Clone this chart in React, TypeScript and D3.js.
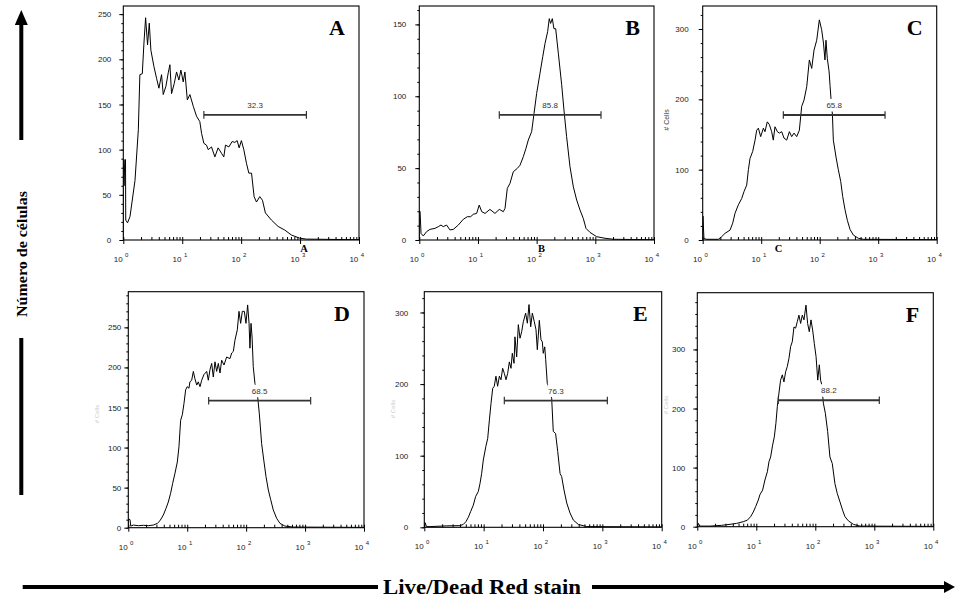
import React, { useEffect, useRef } from 'react';
import * as d3 from 'd3';

type Pt = [number, number];

// histograms: [fluorescence, cell count]
const histA: Pt[] = [
  [1, 0], [1, 89], [1.03, 60], [1.06, 89], [1.09, 89], [1.1, 22], [1.18, 19], [1.3, 26], [1.58, 66],
  [1.8, 122], [1.91, 183], [2.1, 184], [2.24, 218], [2.39, 246], [2.58, 216], [2.76, 240], [2.94, 210],
  [3.31, 192], [3.67, 179], [4.02, 168], [4.46, 183], [4.76, 161], [5.28, 170], [5.79, 185], [6.18, 194],
  [6.59, 162], [7.31, 173], [8.01, 186], [8.78, 177], [9.49, 188], [10.4, 175], [11.1, 186], [12.2, 155],
  [13.5, 161], [15.4, 148], [17.5, 137], [19.9, 131], [21.3, 118], [23.3, 107], [25.8, 105], [27.6, 100],
  [31.4, 103], [35.8, 92], [40.7, 102], [46.4, 96], [50.8, 92], [54.2, 105], [61.8, 103], [70.3, 109],
  [78.1, 108], [85.5, 110], [92.5, 102], [101, 110], [111, 100], [123, 85], [135, 74], [150, 74],
  [166, 48], [182, 42], [207, 48], [230, 44], [258, 30], [327, 22], [424, 15], [550, 11], [713, 5.5],
  [986, 2], [1280, 1], [10000, 0.3],
];

const histB: Pt[] = [
  [1, 0], [1, 20], [1.03, 20], [1.07, 4.6], [1.17, 2.8], [1.33, 5.8], [1.52, 7.4], [1.85, 8.1], [2.11, 9.3],
  [2.34, 10.4], [2.56, 9.3], [2.92, 10.4], [3.33, 7], [3.8, 7.4], [4.62, 10.4], [5.62, 14.4], [6.58, 16.2],
  [7.5, 16.2], [8.32, 17.9], [9.49, 18.5], [10.5, 24.3], [11.6, 19.7], [13.2, 18.5], [16, 21.3], [19.5, 18.5],
  [23.1, 21.3], [27, 19.7], [28.9, 22], [31.6, 35.9], [35.1, 39.4], [40, 47.5], [46.8, 49.8], [52, 52],
  [59.3, 58], [65.8, 63.8], [72.1, 69.6], [82.2, 75.4], [90.2, 88], [100, 102], [114, 116], [127, 127.5],
  [139, 136.8], [154, 145], [164, 154], [173, 150.7], [185, 154], [197, 147], [211, 147], [234, 130],
  [267, 108], [292, 90.4], [324, 71.9], [370, 51], [422, 37], [481, 27.8], [548, 20.9], [624, 15],
  [693, 8.1], [811, 5.3], [1054, 2.3], [1462, 1.2], [2027, 0.5], [10000, 0.2],
];

const histC: Pt[] = [
  [1, 0], [1.01, 34], [1.05, 2], [1.17, 1], [1.85, 1], [2.11, 4.7], [2.41, 9.5], [2.93, 14], [3.26, 24],
  [3.57, 38], [4.07, 50], [4.64, 59], [5.09, 69], [5.65, 78], [6.04, 100], [6.44, 116], [7.16, 126],
  [7.85, 142], [8.37, 156], [8.95, 159], [9.8, 147], [10.9, 159], [11.6, 154], [12.7, 168], [13.8, 164],
  [15.1, 154], [16.1, 142], [17.2, 161], [18.9, 154], [20.4, 152], [22.4, 154], [24.5, 145], [27.3, 142],
  [30.3, 154], [33.2, 147], [36.4, 152], [40.4, 147], [44.9, 156], [49.2, 190], [54, 199], [60, 218],
  [66.5, 256], [73, 244], [80, 270], [88.9, 284], [98.6, 313], [108, 299], [116, 280], [123, 256],
  [128, 284], [135, 258], [145, 239], [150, 220], [156, 201], [165, 178], [171, 142], [190, 118],
  [208, 100], [229, 83], [247, 62], [271, 43], [297, 28], [330, 15], [376, 7], [458, 2.4], [558, 1],
  [10000, 0.5],
];

const histD: Pt[] = [
  [1, 0], [1.01, 11], [1.07, 10], [1.1, 2], [1.22, 3.3], [1.48, 2.5], [1.8, 3], [2.18, 2.5], [2.66, 3.3],
  [3.11, 5.4], [3.45, 8.7], [3.93, 15.8], [4.36, 24], [4.77, 32], [5.23, 43], [5.65, 55], [6.2, 68],
  [6.79, 82], [7.24, 101], [7.73, 134], [8.26, 141], [8.81, 155], [9.4, 172], [10, 176], [10.7, 174],
  [11.1, 182], [11.9, 184], [12.7, 195], [13.5, 186], [14.5, 178], [15.4, 182], [16.5, 176], [17.6, 184],
  [19.2, 191], [21.4, 195], [22.8, 184], [24.3, 197], [26, 205], [27.7, 188], [29.6, 207], [31.6, 195],
  [33.7, 205], [36, 193], [38.4, 209], [42.1, 203], [46.7, 213], [53.2, 211], [56.8, 218], [60.6, 220],
  [64.6, 234], [70.8, 247], [75.6, 270], [80.7, 255], [86.1, 270], [93.1, 270], [99.3, 255], [106, 278],
  [112, 255], [116, 224], [121, 255], [126, 238], [132, 201], [141, 180], [157, 163], [167, 143],
  [183, 105], [201, 82], [217, 64], [238, 47], [261, 35], [289, 22], [330, 11.6], [375, 5.4], [456, 2],
  [632, 0.8], [10000, 0.4],
];

const histE: Pt[] = [
  [1, 0], [1.03, 6.5], [1.09, 1], [1.25, 1], [2.38, 2], [3.99, 2.3], [4.54, 4], [5.04, 8], [5.52, 14],
  [6.04, 22], [6.7, 31], [7.33, 43], [8.13, 50], [8.67, 61], [9.25, 75], [9.87, 94], [10.9, 113],
  [11.7, 124], [12.5, 150], [13.3, 173], [14.2, 194], [15.1, 197], [16.1, 211], [17.2, 197], [18.4, 211],
  [19.6, 206], [20.9, 222], [22.3, 215], [23.8, 206], [25.4, 215], [27.1, 231], [28.9, 222], [30.4, 243],
  [32.5, 229], [33.7, 266], [36, 238], [38.4, 283], [41, 264], [43.7, 273], [46.6, 287], [51, 299],
  [54.5, 285], [58.1, 311], [62, 280], [66.1, 299], [71.4, 287], [76.2, 276], [80.2, 248], [86.7, 289],
  [92.5, 262], [97.4, 259], [101, 243], [107, 252], [111, 234], [118, 201], [140, 180], [149, 134],
  [163, 131], [177, 106], [194, 75], [206, 71], [226, 52], [251, 34], [285, 20], [325, 10], [394, 4],
  [545, 1], [10000, 0.5],
];

const histF: Pt[] = [
  [1, 0], [1.04, 5.6], [1.11, 1], [1.64, 1], [2.58, 2.3], [3.58, 4], [4.64, 5.6], [6.02, 8.5], [7.04, 11],
  [8.02, 17], [8.9, 25], [9.75, 34], [10.8, 45], [11.5, 54], [12.8, 62], [14, 79], [15.4, 93], [16.4, 110],
  [17.5, 118], [18.9, 138], [20.2, 152], [21.5, 175], [22.7, 203], [24.2, 226], [25.8, 248], [27.6, 257],
  [29.4, 245], [31.4, 262], [33.5, 271], [35.8, 285], [38.2, 305], [40.7, 313], [43.5, 338], [46.4, 336],
  [49.5, 347], [52.8, 358], [56.4, 344], [60.2, 358], [64.3, 350], [69.5, 375], [74.1, 344], [79.1, 330],
  [84.5, 350], [90.1, 333], [96.2, 310], [103, 288], [110, 248], [117, 274], [123, 248], [128, 241],
  [137, 209], [148, 192], [162, 161], [177, 118], [194, 107], [215, 73], [236, 56], [262, 42], [290, 28],
  [318, 17], [363, 10], [441, 4], [571, 1], [10000, 0.5],
];

const histograms = [histA, histB, histC, histD, histE, histF];
const panelLetters = ['A', 'B', 'C', 'D', 'E', 'F'];
const gatePercent = ['32.3', '85.8', '65.8', '68.5', '76.3', '88.2'];
const gateStart = [23.3, 23.1, 23.9, 23.1, 22.3, 23.6];
const gateEnd = [1280, 1250, 1309, 1244, 1214, 1216];
const gateCount = [138.5, 87, 177.7, 158.5, 177, 214];
const yAxisMax = [259, 162.8, 332.7, 294.5, 329, 396];
const yTickValues = [
  [0, 50, 100, 150, 200, 250],
  [0, 50, 100, 150],
  [0, 100, 200, 300],
  [0, 50, 100, 150, 200, 250],
  [0, 100, 200, 300],
  [0, 100, 200, 300],
];
const yMinorStep = [10, 10, 20, 10, 20, 20];
const xMajorTicks = [1, 10, 100, 1000, 10000];
const xExponents = ['0', '1', '2', '3', '4'];
const xMinorFactors = [2, 3, 4, 5, 6, 7, 8, 9];
const yTitle = 'Número de células';
const xTitle = 'Live/Dead Red stain';
const countLabel = '# Cells';
const underLetters = ['A', 'B', 'C'];

// layout (page pixels)
const W = 955;
const H = 603;
const frames = [
  { x: 123.3, y: 6, w: 235.7, h: 234 },
  { x: 419.3, y: 6, w: 234.7, h: 234 },
  { x: 702.7, y: 6, w: 234, h: 234 },
  { x: 128.3, y: 291.7, w: 235.7, h: 236 },
  { x: 424.3, y: 291.7, w: 237.4, h: 235.6 },
  { x: 697.3, y: 292.7, w: 236, h: 234 },
];
const yLabelGap = [12, 13, 14, 7, 16, 12];
const underLetterX = [304, 541.5, 778.5];
const cellsLabelPos = [
  { x: 667, y: 120, faint: false },
  { x: 96.7, y: 414, faint: true },
  { x: 392.7, y: 409, faint: true },
  { x: 665.5, y: 405, faint: true },
];

const SANS = 'Liberation Sans, Arial, sans-serif';
const SERIF = 'Liberation Serif, Times New Roman, serif';

export default function App() {
  const svgRef = useRef<SVGSVGElement>(null);

  useEffect(() => {
    const svg = d3.select(svgRef.current);
    svg.selectAll('*').remove();
    svg.append('rect').attr('width', W).attr('height', H).attr('fill', '#fff');

    const xMinorTicks = xMajorTicks.slice(0, 4).flatMap(d => xMinorFactors.map(m => m * d));

    histograms.forEach((data, i) => {
      const f = frames[i];
      const x = d3.scaleLog().domain([1, 10000]).range([f.x, f.x + f.w]);
      const y = d3.scaleLinear().domain([0, yAxisMax[i]]).range([f.y + f.h, f.y]);
      const g = svg.append('g');

      g.append('clipPath').attr('id', `clip${i}`).append('rect')
        .attr('x', f.x).attr('y', f.y).attr('width', f.w).attr('height', f.h);

      // histogram
      const line = d3.line<Pt>().x(d => x(d[0])).y(d => y(d[1]));
      g.append('path')
        .datum(data)
        .attr('clip-path', `url(#clip${i})`)
        .attr('fill', 'none')
        .attr('stroke', '#000')
        .attr('stroke-width', 1)
        .attr('stroke-linejoin', 'round')
        .attr('d', line);

      // marker gate, its label sits on a white box like the cytometer output
      const gy = y(gateCount[i]);
      const gx0 = x(gateStart[i]);
      const gx1 = x(gateEnd[i]);
      const tx = (gx0 + gx1) / 2;
      g.append('rect')
        .attr('x', tx - 8.5).attr('y', gy - 16).attr('width', 17).attr('height', 12.5)
        .attr('fill', '#fff');
      g.append('text')
        .attr('x', tx).attr('y', gy - 7)
        .attr('text-anchor', 'middle')
        .attr('font-family', SANS).attr('font-size', 8).attr('fill', '#333')
        .text(gatePercent[i]);
      g.append('line')
        .attr('x1', gx0).attr('x2', gx1).attr('y1', gy).attr('y2', gy)
        .attr('stroke', '#333').attr('stroke-width', 1.8);
      [gx0, gx1].forEach(cx => {
        g.append('line')
          .attr('x1', cx).attr('x2', cx).attr('y1', gy - 3.8).attr('y2', gy + 3.8)
          .attr('stroke', '#333').attr('stroke-width', 1.2);
      });

      // frame
      g.append('rect')
        .attr('x', f.x).attr('y', f.y).attr('width', f.w).attr('height', f.h)
        .attr('fill', 'none').attr('stroke', '#000').attr('stroke-width', 1.1);

      // y axis
      const yAxis = g.append('g')
        .attr('transform', `translate(${f.x},0)`)
        .call(d3.axisLeft(y).tickValues(yTickValues[i]).tickSize(4).tickPadding(yLabelGap[i] - 4));
      yAxis.select('.domain').remove();
      yAxis.attr('font-family', SANS).attr('font-size', 8);
      yAxis.selectAll('text').attr('fill', '#222');
      const yMinor = g.append('g')
        .attr('transform', `translate(${f.x},0)`)
        .call(d3.axisLeft(y).tickValues(d3.range(0, yAxisMax[i], yMinorStep[i])).tickSize(2).tickFormat(() => ''));
      yMinor.select('.domain').remove();

      // x axis: decades point down, minor log ticks point into the plot
      const xBase = f.y + f.h;
      const xMaj = g.append('g')
        .attr('transform', `translate(0,${xBase})`)
        .call(d3.axisBottom(x).tickValues(xMajorTicks).tickSize(4).tickFormat(() => ''));
      xMaj.select('.domain').remove();
      const xMin = g.append('g')
        .attr('transform', `translate(0,${xBase})`)
        .call(d3.axisBottom(x).tickValues([...xMinorTicks, ...xMajorTicks]).tickSize(-3).tickFormat(() => ''));
      xMin.select('.domain').remove();

      xMajorTicks.forEach((t, k) => {
        const px = x(t);
        g.append('text')
          .attr('x', px - 0.7).attr('y', xBase + 22)
          .attr('text-anchor', 'end')
          .attr('font-family', SANS).attr('font-size', 8).attr('fill', '#222')
          .text('10');
        g.append('text')
          .attr('x', px + 1.8).attr('y', xBase + 17)
          .attr('font-family', SANS).attr('font-size', 6).attr('fill', '#222')
          .text(xExponents[k]);
      });

      // panel letter
      g.append('text')
        .attr('x', f.x + f.w - 14).attr('y', f.y + 29)
        .attr('text-anchor', 'end')
        .attr('font-family', SERIF).attr('font-weight', 'bold').attr('font-size', 22)
        .text(panelLetters[i]);
    });

    // small letters under the top-row axes
    underLetters.forEach((t, k) => {
      svg.append('text')
        .attr('x', underLetterX[k]).attr('y', 251.5)
        .attr('text-anchor', 'middle')
        .attr('font-family', SERIF).attr('font-weight', 'bold').attr('font-size', 10.5)
        .text(t);
    });

    // "# Cells" axis captions (mostly cut off in the source)
    cellsLabelPos.forEach(p => {
      svg.append('text')
        .attr('transform', `translate(${p.x},${p.y}) rotate(-90)`)
        .attr('text-anchor', 'middle').attr('dy', '0.35em')
        .attr('font-family', SANS).attr('font-size', p.faint ? 6 : 7)
        .attr('fill', p.faint ? '#aaa' : '#444')
        .attr('opacity', p.faint ? 0.6 : 1)
        .text(countLabel);
    });

    // y title with arrow
    const ax = 21.3;
    svg.append('line').attr('x1', ax).attr('x2', ax).attr('y1', 22).attr('y2', 140)
      .attr('stroke', '#000').attr('stroke-width', 4);
    svg.append('path').attr('d', d3.line()([[ax, 10], [ax - 6.5, 25], [ax + 6.5, 25]]) + 'Z').attr('fill', '#000');
    svg.append('text')
      .attr('transform', `translate(${ax},254) rotate(-90)`)
      .attr('text-anchor', 'middle').attr('dy', '0.35em')
      .attr('font-family', SERIF).attr('font-weight', 'bold').attr('font-size', 15.5)
      .attr('textLength', 126).attr('lengthAdjust', 'spacingAndGlyphs')
      .text(yTitle);
    svg.append('line').attr('x1', ax).attr('x2', ax).attr('y1', 338).attr('y2', 495)
      .attr('stroke', '#000').attr('stroke-width', 4);

    // x title with arrow
    const ay = 587;
    svg.append('line').attr('x1', 22.7).attr('x2', 378).attr('y1', ay).attr('y2', ay)
      .attr('stroke', '#000').attr('stroke-width', 4);
    svg.append('text')
      .attr('x', 482).attr('y', ay).attr('dy', '0.35em')
      .attr('text-anchor', 'middle')
      .attr('font-family', SERIF).attr('font-weight', 'bold').attr('font-size', 20)
      .attr('textLength', 198).attr('lengthAdjust', 'spacingAndGlyphs')
      .text(xTitle);
    svg.append('line').attr('x1', 592).attr('x2', 947).attr('y1', ay).attr('y2', ay)
      .attr('stroke', '#000').attr('stroke-width', 4);
    svg.append('path').attr('d', d3.line()([[955, ay], [944, ay - 6], [944, ay + 6]]) + 'Z').attr('fill', '#000');
  }, []);

  return (
    <svg
      ref={svgRef}
      width={W}
      height={H}
      style={{ position: 'absolute', left: 0, top: 0, display: 'block' }}
    />
  );
}
